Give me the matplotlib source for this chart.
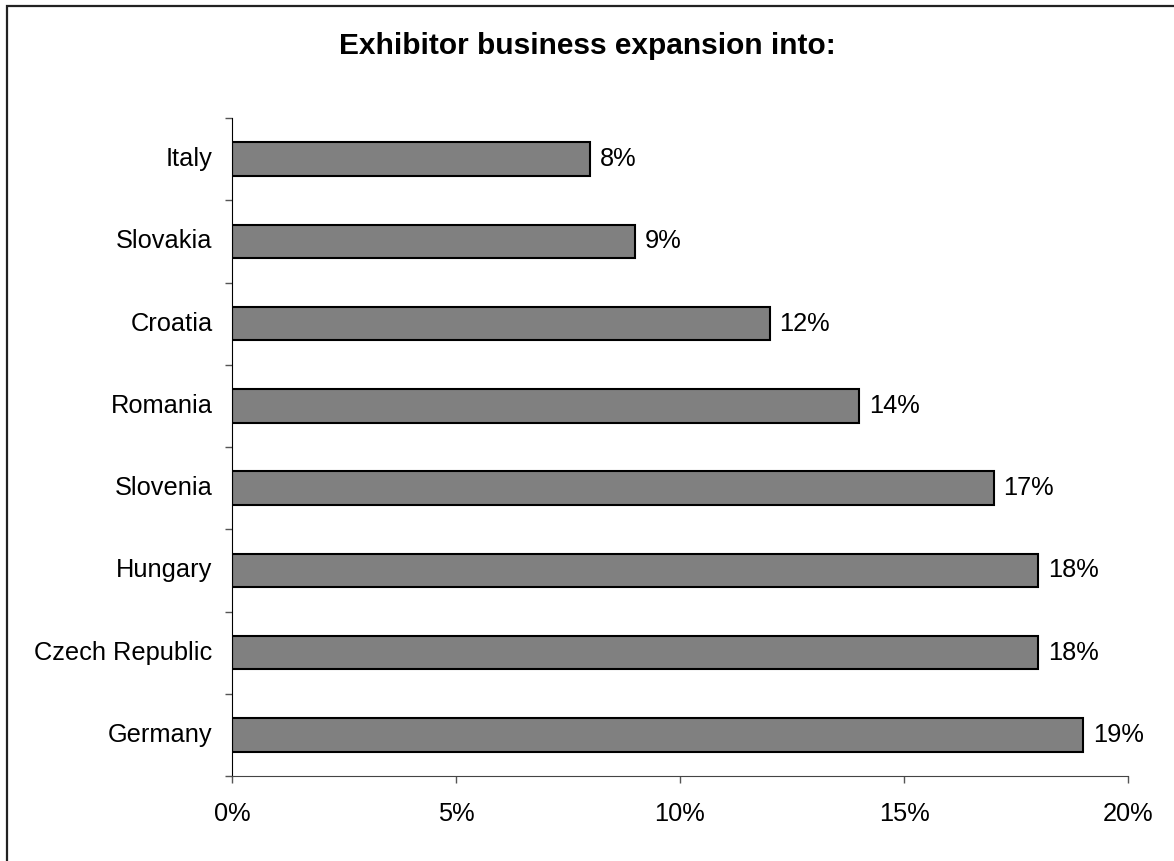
import numpy as np
import matplotlib.pyplot as plt
from matplotlib.patches import Rectangle

plt.rcParams['font.family'] = ['Liberation Sans', 'DejaVu Sans']

countries = ["Germany", "Czech Republic", "Hungary", "Slovenia",
             "Romania", "Croatia", "Slovakia", "Italy"]
shares = [19, 18, 18, 17, 14, 12, 9, 8]
x_ticks = [0, 5, 10, 15, 20]

fig = plt.figure(figsize=(11.74, 8.61), dpi=100)
ax = fig.add_axes([232 / 1174, 1 - 776 / 861, (1128 - 232) / 1174, (776 - 118) / 861])

# outer chart frame (only top/left edges fall inside the image)
fig.patches.append(Rectangle((7 / 1174, -0.1), 1.2, 1 - 6 / 861 + 0.1,
                             transform=fig.transFigure, fill=False,
                             edgecolor='#222222', linewidth=1.6))

pos = np.arange(len(countries))
ax.barh(pos, shares, height=0.41, color='#808080', edgecolor='black', linewidth=1.5)

for p, v in zip(pos, shares):
    ax.annotate(f"{v}%", xy=(v, p), xytext=(7, 0), textcoords='offset points',
                va='center', ha='left', fontsize=18.3)

ax.set_xlim(0, 20)
ax.set_ylim(-0.5, len(countries) - 0.5)
ax.set_xticks(x_ticks)
ax.set_xticklabels([f"{t}%" for t in x_ticks], fontsize=18.3)
ax.tick_params(axis='x', direction='out', length=5, width=1, color='#555555', pad=14)

ax.set_yticks(pos)
ax.set_yticklabels(countries, fontsize=18.3, va='center')
ax.tick_params(axis='y', which='major', length=0, pad=14)
ax.set_yticks(np.arange(-0.5, len(countries)), minor=True)
ax.tick_params(axis='y', which='minor', direction='out', length=5, width=1, color='#555555')

for s in ['top', 'right']:
    ax.spines[s].set_visible(False)
ax.spines['left'].set_color('black')
ax.spines['bottom'].set_color('#444444')

fig.text(0.5, 1 - 46 / 861, "Exhibitor business expansion into:", ha='center', va='center',
         fontsize=21.5, fontweight='bold')

fig.savefig("out.png", dpi=100)
